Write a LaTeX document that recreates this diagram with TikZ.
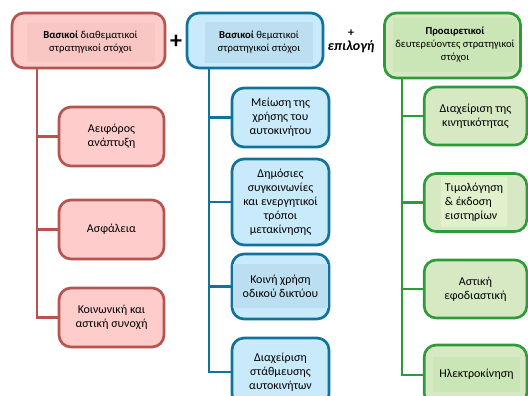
\documentclass[tikz,border=0pt]{standalone}
\usepackage{fontspec}
\setmainfont{Carlito}
\definecolor{redline}{HTML}{B85450}
\definecolor{redfill}{HTML}{FFCCCC}
\definecolor{redin}{HTML}{F8C6C3}
\definecolor{blueline}{HTML}{10739E}
\definecolor{bluefill}{HTML}{C9EAFA}
\definecolor{bluein}{HTML}{BBDFF1}
\definecolor{greenline}{HTML}{2E9B3A}
\definecolor{greenfill}{HTML}{D7E9C2}
\definecolor{greenin}{HTML}{CBE6B6}
\definecolor{greenlite}{HTML}{E0F1CC}

\begin{document}
\begin{tikzpicture}[x=0.75pt,y=-0.75pt,
  box/.style={draw,rounded corners=9pt,line width=2pt,align=center,inner sep=1pt,
    font=\fontsize{9}{10.5}\selectfont},
  headtext/.style={align=center,inner sep=1pt,font=\fontsize{8}{9.8}\selectfont},
  redbox/.style={box,draw=redline,fill=redfill,minimum width=78.75pt,minimum height=44.25pt},
  bluebox/.style={box,draw=blueline,fill=bluefill,minimum width=72.75pt},
  greenbox/.style={box,draw=greenline,fill=greenfill,minimum width=77pt,minimum height=43.5pt},
  wire/.style={line width=2pt}]
\useasboundingbox (0,0) rectangle (528,396);

% headers
\node[box,draw=redline,fill=redfill,minimum width=114.75pt,minimum height=41.25pt] (rhead) at (88.5,40.5) {};
\node[headtext,fill=redin,minimum width=96pt,minimum height=29.25pt] (rtext) at (90.5,42.5) {\textbf{Βασικοί} διαθεματικοί\\στρατηγικοί στόχοι};
\node[box,draw=blueline,fill=bluefill,minimum width=102pt,minimum height=41.25pt] (bhead) at (255,40.5) {};
\node[headtext,fill=bluein,minimum width=81pt,minimum height=30.75pt] (btext) at (259,42.5) {\textbf{Βασικοί} θεματικοί\\στρατηγικοί στόχοι};
\node[box,draw=greenline,fill=greenfill,minimum width=102pt,minimum height=48.75pt] (ghead) at (452.5,45.5) {};
\node[headtext,fill=greenin,minimum width=93pt,minimum height=40.5pt] (gtext) at (455,45) {\textbf{Προαιρετικοί}\\δευτερεύοντες στρατηγικοί\\στόχοι};

\node[font=\fontsize{18}{18}\selectfont\bfseries] (plus) at (176,42) {+};
\node[font=\fontsize{9}{9}\selectfont\bfseries] (plus2) at (351,33) {+};
\node[font=\fontsize{10.5}{12}\selectfont\bfseries\itshape] (choice) at (351,47) {επιλογή};

% red column
\node[redbox] (r1) at (111.5,136.5) {Αειφόρος\\ανάπτυξη};
\node[redbox] (r2) at (111.5,229.5) {Ασφάλεια};
\node[redbox] (r3) at (111.5,317.5) {Κοινωνική και\\αστική συνοχή};

% blue column
\node[bluebox,minimum height=44.25pt] (b1) at (280.5,117.5) {Μείωση της\\χρήσης του\\αυτοκινήτου};
\node[bluebox,minimum height=64.5pt] (b2) at (280.5,202) {Δημόσιες\\συγκοινωνίες\\και ενεργητικοί\\τρόποι\\μετακίνησης};
\node[bluebox,minimum height=48.75pt] (b3) at (280.5,286.5) {};
\node[box,draw=none,fill=bluein,rounded corners=0pt,minimum width=71pt,minimum height=33pt] (b3text) at (280.5,286) {Κοινή χρήση\\οδικού δικτύου};
\node[bluebox,minimum height=51pt] (b4) at (280.5,372) {Διαχείριση\\στάθμευσης\\αυτοκινήτων};

% green column
\node[greenbox] (g1) at (475.5,116) {Διαχείριση της\\κινητικότητας};
\node[greenbox] (g2) at (475.5,202.5) {};
\node[box,draw=none,fill=greenlite,rounded corners=0pt,align=left,minimum width=49.5pt,minimum height=37.5pt] (g2text) at (474,202) {Τιμολόγηση\\\& έκδοση\\εισιτηρίων};
\node[greenbox] (g3) at (475.5,289) {Αστική\\εφοδιαστική};
\node[greenbox,minimum height=45pt] (g4) at (475.5,375) {};
\node[box,draw=none,fill=greenin,rounded corners=0pt,minimum width=65pt,minimum height=26pt] (g4text) at (476.5,374.5) {Ηλεκτροκίνηση};

% trunks
\coordinate (rtop) at (37,67);
\coordinate (btop) at (209,67);
\coordinate (gtop) at (402,77);
\foreach \c in {r1,r2,r3} \draw[wire,redline] (rtop) |- (\c.west);
\foreach \c in {b1,b2,b3,b4} \draw[wire,blueline] (btop) |- (\c.west);
\foreach \c in {g1,g2,g3,g4} \draw[wire,greenline] (gtop) |- (\c.west);
\end{tikzpicture}
\end{document}
